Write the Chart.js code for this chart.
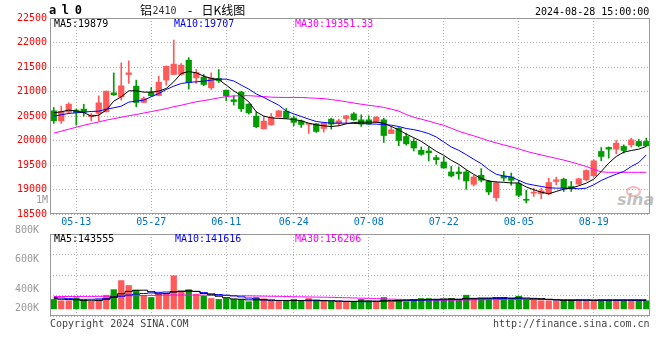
<!DOCTYPE html>
<html><head><meta charset="utf-8">
<script src="https://cdn.jsdelivr.net/npm/chart.js@4.4.1/dist/chart.umd.min.js"></script>
<style>
html,body{margin:0;padding:0;background:#fff;}
#wrap{position:relative;width:660px;height:360px;overflow:hidden;font-family:'DejaVu Sans Mono',monospace;background:#fff;}
canvas{position:absolute;left:0;}
.t{position:absolute;font-size:10px;line-height:12px;white-space:pre;font-family:'DejaVu Sans Mono',monospace;}
.cjk{position:absolute;font-size:12px;line-height:14px;white-space:pre;font-family:'Noto Sans CJK SC',sans-serif;color:#000;}
</style></head><body>
<div id="wrap">
<div style="position:absolute;left:626px;top:186px;width:11px;height:7px;border:2px solid rgba(240,130,130,0.55);border-radius:50%;"></div>
<div style="position:absolute;left:617px;top:190px;font:italic bold 16px 'DejaVu Sans',sans-serif;color:rgba(150,150,150,0.6);">sina</div>
<canvas id="pc" width="660" height="232" style="top:0"></canvas>
<canvas id="vc" width="660" height="105" style="top:220px"></canvas>
<div class="t" style="left:49px;top:3px;font-size:12px;line-height:14px;font-weight:bold;letter-spacing:-0.8px;">a l 0</div>
<div class="cjk" style="left:140px;top:3px;">铝</div>
<div class="t" style="left:152.5px;top:5px;color:#333;">2410</div>
<div class="cjk" style="left:188px;top:3px;">-</div>
<div class="cjk" style="left:201.5px;top:3px;">日K线图</div>
<div class="t" style="left:535px;top:6px;color:#000;">2024-08-28 15:00:00</div>
<div class="t" style="left:54px;top:18px;color:#000;">MA5:19879</div>
<div class="t" style="left:174px;top:18px;color:#0000ff;">MA10:19707</div>
<div class="t" style="left:295px;top:18px;color:#ff00ff;">MA30:19351.33</div>
<div class="t" style="left:36px;top:194px;color:#999;">1M</div>
<div class="t" style="left:54px;top:232.5px;color:#000;">MA5:143555</div>
<div class="t" style="left:175px;top:232.5px;color:#0000ff;">MA10:141616</div>
<div class="t" style="left:295px;top:232.5px;color:#ff00ff;">MA30:156206</div>
<div class="t" style="left:50px;top:318px;color:#444;">Copyright 2024 SINA.COM</div>
<div class="t" style="right:10.5px;top:318px;color:#444;">http://finance.sina.com.cn</div>
</div>
<script>
const dates = ['05-08','05-09','05-10','05-13','05-14','05-15','05-16','05-17','05-20','05-21','05-22','05-23','05-24','05-27','05-28','05-29','05-30','05-31','06-03','06-04','06-05','06-06','06-07','06-11','06-12','06-13','06-14','06-17','06-18','06-19','06-20','06-21','06-24','06-25','06-26','06-27','06-28','07-01','07-02','07-03','07-04','07-05','07-08','07-09','07-10','07-11','07-12','07-15','07-16','07-17','07-18','07-19','07-22','07-23','07-24','07-25','07-26','07-29','07-30','07-31','08-01','08-02','08-05','08-06','08-07','08-08','08-09','08-12','08-13','08-14','08-15','08-16','08-19','08-20','08-21','08-22','08-23','08-26','08-27','08-28'];
const tickDates = ['05-13','05-27','06-11','06-24','07-08','07-22','08-05','08-19'];

const open = [20606,20400,20580,20620,20640,20485,20552,20585,20973,20892, 21347,21109,20776,20980,20919,21232,21347,21347,21640,21279, 21293,21075,21266,21027,20830,20987,20742,20497,20239,20320, 20484,20599,20460,20400,20330,20340,20245,20436,20354,20449, 20544,20422,20422,20374,20422,20143,20252,20082,19983,19800, 19786,19650,19562,19358,19358,19358,19106,19290,19167,18834, 19276,19256,19120,18800,18926,18912,18912,19164,19211,19062, 19109,19198,19279,19776,19857,19823,19878,19912,19980,19980];
const high = [20674,20700,20770,20640,20740,20550,20912,21010,21380,21585, 21626,21232,20890,21082,21313,21520,22050,21572,21690,21449, 21347,21381,21449,21030,20912,21007,20750,20586,20497,20552, 20610,20654,20500,20420,20350,20345,20360,20456,20436,20510, 20572,20524,20504,20490,20456,20286,20266,20150,20038,19868, 19868,19698,19664,19473,19460,19392,19290,19426,19188,19160, 19371,19337,19188,18984,19028,19028,19232,19252,19232,19164, 19232,19402,19606,19857,19870,20000,19912,20048,20027,20048];
const low = [20348,20347,20550,20313,20497,20400,20400,20580,20920,20824, 21164,20690,20770,20900,20910,21130,21340,21330,21050,21164, 21116,21041,21184,20810,20722,20592,20538,20259,20230,20310, 20480,20450,20300,20266,20143,20164,20170,20232,20300,20354, 20408,20286,20330,20370,19960,20140,19892,19905,19786,19698, 19582,19514,19435,19256,19208,19004,19072,19154,18895,18766, 19174,19086,18848,18725,18858,18810,18892,19096,18960,18960, 19100,19177,19266,19585,19640,19728,19742,19864,19870,19885];
const close = [20402,20590,20742,20572,20578,20520,20769,21007,20932,21116, 21381,20776,20858,20912,21191,21517,21558,21538,21184,21388, 21143,21279,21218,20912,20796,20647,20565,20280,20395,20470, 20606,20463,20370,20327,20347,20184,20354,20334,20402,20504, 20422,20334,20334,20476,20102,20218,20000,19932,19847,19718, 19752,19609,19439,19276,19324,19174,19256,19188,18950,19140, 19235,19188,18882,18780,18946,18973,19143,19198,19028,19028, 19218,19388,19585,19674,19823,19946,19796,20014,19891,19891];

const ma5 = [20565,20586,20620,20600,20572,20497,20518,20620,20803,20892, 21014,21014,20987,20987,21007,21062,21198,21368,21408,21381, 21313,21266,21245,21130,21014,20912,20790,20586,20497,20463, 20450,20443,20429,20402,20354,20320,20300,20286,20300,20340, 20368,20374,20374,20374,20354,20286,20218,20130,20058,19983, 19881,19779,19698,19596,19514,19405,19310,19222,19174,19154, 19147,19133,19133,19052,18994,18946,18912,18960,19007,19028, 19075,19130,19211,19368,19538,19674,19762,19796,19823,19879];
const ma10 = [20497,20524,20552,20565,20579,20592,20599,20640,20667,20701, 20783,20803,20824,20892,20960,21041,21109,21164,21184,21198, 21211,21232,21252,21252,21215,21130,21050,20950,20880,20800, 20720,20600,20544,20490,20436,20388,20368,20354,20354,20354, 20347,20347,20340,20334,20327,20313,20286,20245,20221,20187, 20140,20072,19970,19868,19800,19711,19616,19528,19405,19310, 19276,19256,19188,19120,19089,19062,19034,19028,19028,19028, 19014,19028,19096,19184,19252,19313,19368,19470,19551,19707];
const ma30 = [20150,20190,20230,20270,20310,20345,20380,20415,20445,20475, 20505,20530,20560,20590,20620,20650,20690,20720,20756,20790, 20815,20840,20870,20895,20910,20915,20915,20905,20895,20885, 20880,20878,20880,20878,20870,20862,20855,20835,20815,20790, 20765,20740,20718,20700,20675,20640,20600,20530,20475,20435, 20395,20350,20310,20250,20190,20140,20095,20045,19995,19950, 19910,19870,19830,19780,19740,19705,19670,19635,19600,19560, 19515,19470,19410,19360,19351,19351,19351,19351,19351,19351];

const volume = [157000,135000,135000,184000,135000,119000,157000,227000,319000,470000, 389000,308000,211000,189000,254000,254000,551000,281000,319000,243000, 211000,173000,157000,173000,157000,157000,119000,189000,167000,135000, 135000,135000,157000,135000,173000,135000,135000,122000,119000,119000, 119000,157000,135000,119000,189000,119000,157000,119000,157000,173000, 173000,157000,157000,173000,157000,227000,173000,173000,173000,189000, 189000,173000,211000,157000,157000,135000,135000,135000,135000,157000, 157000,135000,135000,157000,157000,157000,135000,157000,135000,135000];
const volMA5 = [170000,160000,155000,150000,140000,135000,140000,160000,200000,250000, 290000,310000,310000,285000,250000,255000,280000,295000,300000,290000, 255000,235000,210000,185000,165000,160000,150000,150000,150000,145000, 140000,140000,140000,140000,145000,145000,140000,135000,130000,125000, 125000,130000,130000,130000,135000,140000,140000,145000,150000,150000, 155000,160000,165000,165000,160000,175000,175000,180000,180000,185000, 185000,180000,185000,180000,175000,170000,160000,150000,140000,140000, 145000,145000,140000,145000,145000,145000,145000,145000,145000,143555];
const volMA10 = [190000,180000,170000,160000,158000,160000,165000,170000,190000,210000, 230000,245000,255000,265000,275000,280000,285000,290000,292000,290000, 270000,250000,238000,228000,215000,200000,180000,165000,150000,145000, 140000,138000,138000,137000,136000,136000,135000,132000,128000,125000, 122000,120000,120000,122000,125000,128000,130000,135000,140000,145000, 148000,150000,152000,155000,158000,162000,165000,168000,170000,172000, 172000,172000,170000,168000,165000,160000,155000,150000,148000,146000, 145000,143000,142000,142000,141000,141000,141000,141000,141000,141616];
const volMA30 = [205000,205000,206000,206000,207000,207000,208000,210000,212000,215000, 218000,220000,222000,224000,226000,228000,230000,230000,230000,230000, 228000,226000,224000,222000,220000,218000,216000,214000,212000,210000, 208000,205000,202000,200000,198000,196000,194000,192000,188000,185000, 182000,178000,175000,170000,166000,162000,158000,155000,152000,150000, 148000,146000,145000,145000,146000,148000,150000,152000,153000,154000, 155000,155000,156000,156000,156000,156000,156000,156000,156000,156000, 156000,156000,156000,156000,156000,156000,156000,156000,156000,156206];

const priceTicks = [18500,19000,19500,20000,20500,21000,21500,22000,22500];
const volTickLabels = ['200K','400K','600K','800K'];
const volTickValues = [0,320000,820000,1300000];

const UP = '#ff5a5a', DOWN = '#009c00';
const candleColor = dates.map((d,i)=> close[i] >= open[i] ? UP : DOWN);
const isTick = i => tickDates.includes(dates[i]);

Chart.defaults.font.family = "'DejaVu Sans Mono', monospace";
Chart.defaults.font.size = 10;

const framePlugin = {
  id: 'frame',
  afterDraw(chart) {
    const {ctx, chartArea: a} = chart;
    ctx.save();
    ctx.strokeStyle = '#999';
    ctx.lineWidth = 1;
    ctx.strokeRect(a.left + 0.5, a.top + 0.5, a.right - a.left - 1, a.bottom - a.top - 1);
    ctx.restore();
  }
};

const xGridColor = ctx => (ctx.index !== undefined && isTick(ctx.index)) ? '#b0b0b0' : 'rgba(0,0,0,0)';

new Chart(document.getElementById('pc'), {
  type: 'bar',
  data: {
    labels: dates,
    datasets: [
      {type:'line', data: ma5, borderColor:'#000', borderWidth:1, pointRadius:0, order:0},
      {type:'line', data: ma10, borderColor:'#0000ff', borderWidth:1, pointRadius:0, order:0},
      {type:'line', data: ma30, borderColor:'#ff00ff', borderWidth:1, pointRadius:0, order:0},
      {data: dates.map((d,i)=>[open[i], close[i]]), backgroundColor: candleColor, barThickness: 5.6, minBarLength: 1, grouped: false, order: 1},
      {data: dates.map((d,i)=>[low[i], high[i]]), backgroundColor: candleColor, barThickness: 1, grouped: false, order: 2}
    ]
  },
  options: {
    responsive: false, animation: false,
    layout: {padding: {top: 18, right: 10, left: 0, bottom: 0}},
    plugins: {legend: {display: false}, tooltip: {enabled: false}},
    scales: {
      x: {
        ticks: {autoSkip: false, maxRotation: 0, color: '#0070c8', padding: 2,
          callback: (v, i) => isTick(i) ? dates[i] : ''},
        grid: {offset: false, drawTicks: false, color: xGridColor},
        border: {display: false, dash: [1, 2]},
        afterFit: s => { s.height = 18; }
      },
      y: {
        min: 18500, max: 22500,
        afterBuildTicks: s => { s.ticks = priceTicks.map(v => ({value: v})); },
        ticks: {color: '#ff0000', padding: 3, callback: v => String(v)},
        grid: {drawTicks: false, color: '#b0b0b0'},
        border: {display: false, dash: [1, 2]},
        afterFit: s => { s.width = 50; }
      }
    }
  },
  plugins: [framePlugin]
});

new Chart(document.getElementById('vc'), {
  type: 'bar',
  data: {
    labels: dates,
    datasets: [
      {type:'line', data: volMA5, borderColor:'#000', borderWidth:1, pointRadius:0, stepped:'middle', order:0},
      {type:'line', data: volMA10, borderColor:'#0000ff', borderWidth:1, pointRadius:0, stepped:'middle', order:0},
      {type:'line', data: volMA30, borderColor:'#ff00ff', borderWidth:1, pointRadius:0, stepped:'middle', order:0},
      {data: volume, backgroundColor: candleColor, barThickness: 5.6, order: 1}
    ]
  },
  options: {
    responsive: false, animation: false,
    layout: {padding: {top: 14, right: 10, left: 0, bottom: 0}},
    plugins: {legend: {display: false}, tooltip: {enabled: false}},
    scales: {
      x: {
        ticks: {display: false, autoSkip: false},
        grid: {offset: false, drawTicks: false, color: xGridColor},
        border: {display: false, dash: [1, 2]},
        afterFit: s => { s.height = 7; }
      },
      y: {
        min: -118000, max: 1243000,
        afterBuildTicks: s => { s.ticks = volTickValues.map(v => ({value: v})); },
        ticks: {color: '#999', padding: 3, callback: (v, i) => volTickLabels[i]},
        grid: {display: false},
        border: {display: false},
        afterFit: s => { s.width = 50; }
      },
      yg: {
        position: 'right', min: 0, max: 4,
        ticks: {display: false, stepSize: 1},
        grid: {drawTicks: false, color: '#b0b0b0'},
        border: {display: false, dash: [1, 2]},
        afterFit: s => { s.width = 0; }
      }
    }
  },
  plugins: [framePlugin]
});
</script>
</body></html>
